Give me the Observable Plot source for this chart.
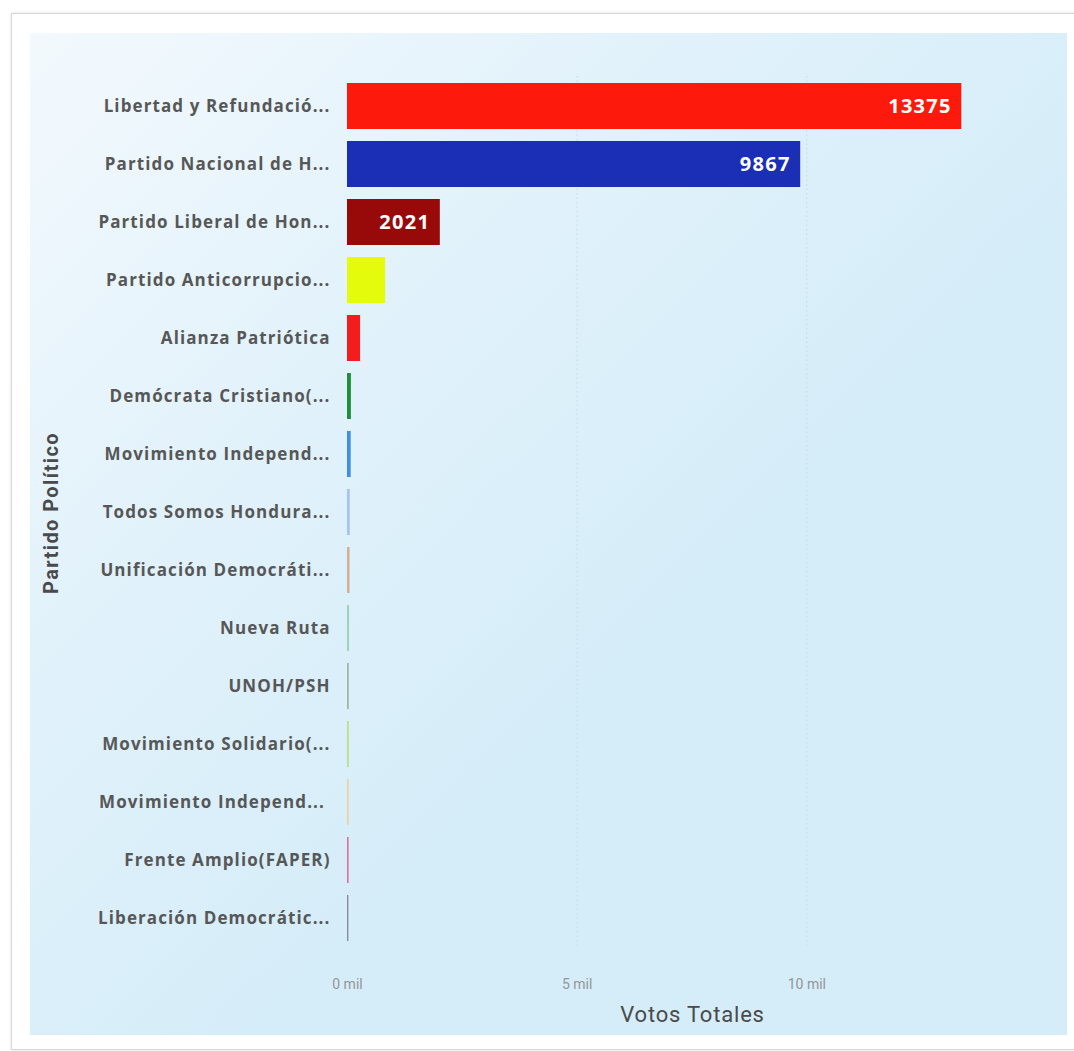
<!DOCTYPE html>
<html>
<head>
<meta charset="utf-8">
<script src="https://cdn.jsdelivr.net/npm/d3@7"></script>
<script src="https://cdn.jsdelivr.net/npm/@observablehq/plot@0.6"></script>
<style>
  html, body { margin: 0; padding: 0; background: #ffffff; }
  #card {
    position: absolute; left: 11px; top: 13px; width: 1070px; height: 1035px;
    border: 1px solid #d8d8d8; box-shadow: 0 0 3px rgba(0,0,0,0.12); background: #ffffff;
  }
  #panel {
    position: absolute; left: 30px; top: 33px; width: 1037px; height: 1002px;
    background: linear-gradient(135deg, #f3f9fd 0%, #e2f2fb 30%, #d5edf9 60%, #d5edf9 100%);
  }
  #panel svg { position: absolute; left: 0; top: 0; overflow: visible; }
</style>
</head>
<body>
<div id="card"></div>
<div id="panel"></div>
<script>
const parties = [
  "Libertad y Refundació...",
  "Partido Nacional de H...",
  "Partido Liberal de Hon...",
  "Partido Anticorrupcio...",
  "Alianza Patriótica",
  "Demócrata Cristiano(...",
  "Movimiento Independ...",
  "Todos Somos Hondura...",
  "Unificación Democráti...",
  "Nueva Ruta",
  "UNOH/PSH",
  "Movimiento Solidario(...",
  "Movimiento Independ... ",
  "Frente Amplio(FAPER)",
  "Liberación Democrátic..."
];
const votes = [13375, 9867, 2021, 830, 285, 85, 80, 60, 55, 45, 40, 40, 35, 35, 30];
const colors = [
  "#fd1a0c", "#1a2fb6", "#980a0a", "#e4fb0c", "#f41c1c",
  "#1f8f3a", "#3f8fe0", "#a4c6ec", "#d4b096", "#98d6bc",
  "#a2b8a2", "#bde08a", "#eed29c", "#de6e9a", "#8c88a0"
];
const xTicks = [0, 5000, 10000];
const xTickLabels = ["0 mil", "5 mil", "10 mil"];

const data = parties.map((p, i) => ({party: p, votes: votes[i], color: colors[i]}));

const chart = Plot.plot({
  width: 1037,
  height: 1002,
  marginLeft: 317,
  marginRight: 54,
  marginTop: 43,
  marginBottom: 86,
  style: {background: "transparent", overflow: "visible"},
  x: {domain: [0, 14500]},
  y: {domain: parties, paddingInner: 0.2, paddingOuter: 0.1},
  marks: [
    Plot.ruleX([5000, 10000], {stroke: "#c4d8e4", strokeDasharray: "1.5,3", strokeWidth: 1}),
    Plot.barX(data, {x: "votes", y: "party", fill: "color"}),
    Plot.text(data.filter(d => d.votes > 1500), {
      x: "votes", y: "party", text: d => String(d.votes), textAnchor: "end", dx: -10,
      fill: "#ffffff", fontSize: 20, fontWeight: "bold", fontFamily: "Open Sans",
      className: "barlabel"
    }),
    Plot.axisY({
      tickSize: 0, tickPadding: 17, fontSize: 17, fontWeight: "bold",
      fontFamily: "Open Sans", color: "#575757",
      label: "Partido Político", labelAnchor: "center", labelOffset: 304
    }),
    Plot.axisX({
      ticks: xTicks, tickFormat: (d, i) => xTickLabels[i], tickSize: 0, tickPadding: 30,
      fontSize: 14, fontFamily: "Roboto", color: "#959595",
      label: "Votos Totales", labelArrow: false, labelAnchor: "center", labelOffset: 72
    })
  ]
});
document.getElementById("panel").appendChild(chart);
// style axis titles and text spacing
const yAxis = chart.querySelector("g[aria-label='y-axis tick label']");
if (yAxis) yAxis.setAttribute("letter-spacing", "1.1");
chart.querySelectorAll("g[aria-label='x-axis label'] text").forEach(t => {
  t.textContent = t.textContent.replace(/\s*[→←]\s*/g, "");
  t.setAttribute("font-size", "22");
  t.setAttribute("fill", "#4a4a4a");
  t.setAttribute("font-family", "Roboto");
  t.setAttribute("letter-spacing", "0.8");
  t.setAttribute("dx", "12");
});
chart.querySelectorAll("g[aria-label='y-axis label'] text").forEach(t => {
  t.textContent = t.textContent.replace(/\s*[↑↓]\s*/g, "");
  t.setAttribute("font-size", "20");
  t.setAttribute("fill", "#4a4a4a");
  t.setAttribute("font-family", "Roboto");
  t.setAttribute("letter-spacing", "1.4");
});
chart.querySelectorAll(".barlabel").forEach(g => g.setAttribute("letter-spacing", "1.3"));
</script>
</body>
</html>
